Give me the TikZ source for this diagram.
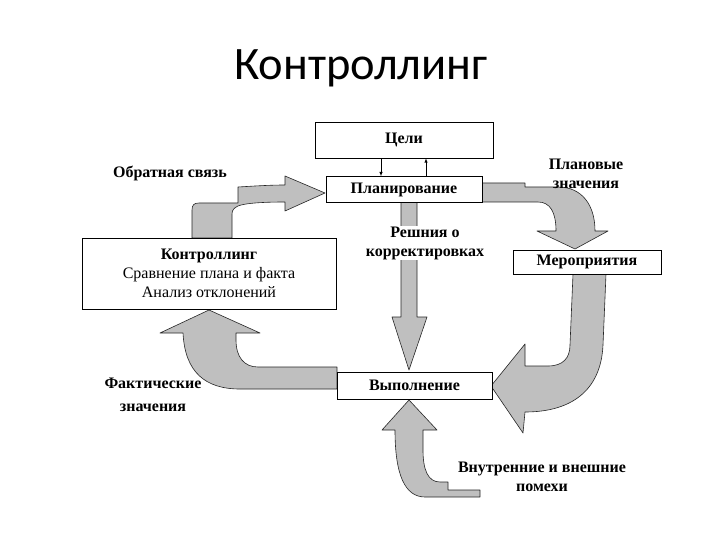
\documentclass[tikz,border=0pt]{standalone}
\usepackage{fontspec}
\setmainfont{Liberation Serif}
\newfontfamily\titlefont{Carlito}
\usetikzlibrary{arrows,positioning}
\tikzset{
  box/.style = {draw, fill=white, line width=0.6pt, inner sep=0pt,
                font=\bfseries\fontsize{16}{19}\selectfont},
  blockarrow/.style = {draw=black!85, fill=black!25, line width=0.6pt, line join=round},
  lbl/.style = {font=\bfseries\fontsize{16}{19}\selectfont, align=center, inner sep=1pt}
}

\begin{document}
\begin{tikzpicture}[x=1pt,y=-1pt]
\useasboundingbox (0,0) rectangle (720,540);

\node (title) at (361,68) {\titlefont\fontsize{46.5}{52}\selectfont Контроллинг};

% block arrows
\draw[blockarrow] (192,238) -- (192,210) .. controls (192,205) and (194,203) .. (199,203)
  -- (238,203) -- (238,187) .. controls (255,186) and (270,185) .. (285,185)
  -- (285,176) -- (325,193) -- (285,211) -- (285,202)
  .. controls (265,202) and (245,203) .. (238,206)
  .. controls (234,208) and (232,210) .. (232,214) -- (232,238) -- cycle;
\draw[blockarrow] (482,183) -- (525,183) -- (525,187) -- (558,187)
  .. controls (582,187) and (595,205) .. (595,231)
  -- (608,231) -- (575,249) -- (537,231) -- (556,231)
  .. controls (556,212) and (550,202) .. (538,202) -- (482,202) -- cycle;
\draw[blockarrow] (401,202) -- (401,317) -- (392,317) -- (409,370) -- (427,317)
  -- (417,317) -- (417,202) -- cycle;
\draw[blockarrow] (573,274) -- (606,274) -- (603,345)
  .. controls (601,390) and (572,412) .. (525,412)
  -- (523,433) -- (491,386) -- (525,344) -- (525,366) -- (548,366)
  .. controls (563,366) and (570,358) .. (570,345) -- cycle;
\draw[blockarrow] (337,367) -- (258,367) .. controls (244,367) and (236,357) .. (236,340)
  -- (236,333) -- (260,333) -- (209,310) -- (160,333) -- (183,333)
  .. controls (185,372) and (205,389) .. (240,389) -- (337,389) -- cycle;
\draw[blockarrow] (395,430) .. controls (395,475) and (405,497) .. (425,497)
  -- (480,497) -- (480,490) -- (448,490) -- (448,482) -- (440,482)
  .. controls (428,482) and (423,470) .. (423,450)
  -- (423,430) -- (437,430) -- (409,400) -- (382,430) -- cycle;

% boxes
\node[box, minimum width=178pt, minimum height=36pt] (goals) at (404,140) {Цели};
\node[box, minimum width=156pt, minimum height=26pt, below=18pt of goals] (planning) {Планирование};
\node[box, minimum width=254pt, minimum height=71pt, align=center,
      font=\fontsize{16}{19}\selectfont] (control) at (209,273.5)
      {\textbf{Контроллинг}\\Сравнение плана и факта\\Анализ отклонений};
\node[box, minimum width=148pt, minimum height=24pt] (measures) at (587,262) {Мероприятия};
\node[box, minimum width=155pt, minimum height=27pt] (execution) at (414.5,385.5) {Выполнение};

\draw[-latex, line width=0.5pt] ([xshift=-23pt]goals.south) -- ([xshift=-23pt]goals.south |- planning.north);
\draw[-latex, line width=0.5pt] ([xshift=22pt]goals.south |- planning.north) -- ([xshift=22pt]goals.south);

% labels
\node[lbl] (feedback) at (170,173) {Обратная связь};
\node[lbl] (plannedval) at (586,173.5) {Плановые\\значения};
\node[lbl, fill=white] (decisions) at (425,243) {Решния о\\корректировках};
\node[lbl] (actualval) at (153,395) {Фактические\\[4pt]значения};
\node[lbl] (noise) at (542,477) {Внутренние и внешние\\помехи};
\end{tikzpicture}
\end{document}
